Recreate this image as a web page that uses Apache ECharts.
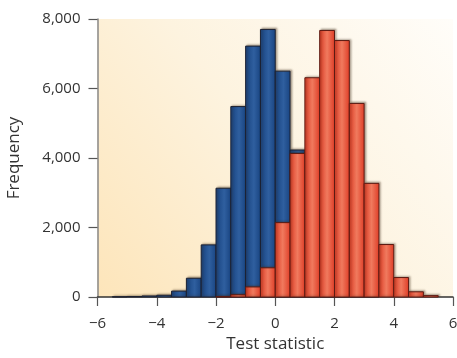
<!DOCTYPE html>
<html>
<head>
<meta charset="utf-8">
<script src="https://cdn.jsdelivr.net/npm/echarts@6/dist/echarts.min.js"></script>
<style>
  html, body { margin: 0; padding: 0; background: #fff; }
  #main { width: 457px; height: 358px; }
</style>
</head>
<body>
<div id="main"></div>
<script>
// left edge of each histogram bin (bin width 0.5)
var binStarts = [-6, -5.5, -5, -4.5, -4, -3.5, -3, -2.5, -2, -1.5, -1, -0.5,
                 0, 0.5, 1, 1.5, 2, 2.5, 3, 3.5, 4, 4.5, 5, 5.5];
var binWidth = 0.5;

// null distribution (blue)
var nullCounts = [0, 5, 15, 30, 50, 170, 540, 1500, 3130, 5480, 7220, 7700,
                  6500, 4230, 2150, 850, 280, 70, 15, 0, 0, 0, 0, 0];
// alternative distribution (red)
var altCounts = [0, 0, 0, 0, 0, 0, 0, 0, 10, 65, 290, 840,
                 2140, 4130, 6310, 7670, 7380, 5570, 3270, 1510, 560, 150, 40, 0];

var yTicks = [0, 2000, 4000, 6000, 8000];
var xTicks = [-6, -4, -2, 0, 2, 4, 6];

function toBins(counts) {
  return binStarts.map(function (x, i) {
    return [x, x + binWidth, counts[i]];
  });
}

function makeRender(fill, stroke) {
  return function (params, api) {
    var v = api.value(2);
    if (!v) return null;
    var p0 = api.coord([api.value(0), v]);
    var p1 = api.coord([api.value(1), 0]);
    return {
      type: 'rect',
      shape: { x: p0[0], y: p0[1], width: p1[0] - p0[0], height: p1[1] - p0[1] },
      style: {
        fill: fill,
        stroke: stroke,
        lineWidth: 1,
        shadowBlur: 2,
        shadowOffsetX: 1.5,
        shadowOffsetY: -1,
        shadowColor: 'rgba(60,40,20,0.35)'
      }
    };
  };
}

var blueFill = {
  type: 'linear', x: 0, y: 0, x2: 1, y2: 0,
  colorStops: [
    { offset: 0, color: '#17427f' },
    { offset: 0.55, color: '#2f5f9f' },
    { offset: 1, color: '#184380' }
  ]
};
var redFill = {
  type: 'linear', x: 0, y: 0, x2: 1, y2: 0,
  colorStops: [
    { offset: 0, color: '#dd3a24' },
    { offset: 0.5, color: '#f07a5e' },
    { offset: 1, color: '#de3b25' }
  ]
};

var font = '"Open Sans", "Noto Sans", sans-serif';

var option = {
  animation: false,
  grid: {
    left: 97.5, right: 4, top: 19, bottom: 61,
    outerBoundsMode: 'none',
    containLabel: false,
    show: true,
    borderWidth: 0,
    backgroundColor: {
      type: 'linear', x: 0, y: 1, x2: 1, y2: 0,
      colorStops: [
        { offset: 0, color: '#fde5ba' },
        { offset: 0.5, color: '#fdf3df' },
        { offset: 1, color: '#fffdf9' }
      ]
    }
  },
  xAxis: {
    type: 'value',
    min: -6, max: 6, interval: 2,
    name: 'Test statistic',
    nameLocation: 'middle',
    nameGap: 37,
    nameTextStyle: { fontSize: 17, color: '#333', fontFamily: font },
    splitLine: { show: false },
    axisLine: { onZero: false, lineStyle: { color: '#333', width: 1.5 } },
    axisTick: { length: 9, lineStyle: { color: '#555', width: 1.2 } },
    axisLabel: {
      margin: 19, fontSize: 15, color: '#333', fontFamily: font,
      formatter: function (v) { return String(v).replace('-', '\u2212'); }
    }
  },
  yAxis: {
    type: 'value',
    min: 0, max: 8000, interval: 2000,
    name: 'Frequency',
    nameLocation: 'middle',
    nameGap: 75,
    nameTextStyle: { fontSize: 17, color: '#333', fontFamily: font },
    splitLine: { show: false },
    axisLine: { show: true, onZero: false, lineStyle: { color: '#888', width: 1.5 } },
    axisTick: { show: true, length: 9, lineStyle: { color: '#555', width: 1.2 } },
    axisLabel: {
      margin: 17, fontSize: 15, color: '#333', fontFamily: font,
      formatter: function (v) { return v.toLocaleString('en-US'); }
    }
  },
  series: [
    {
      type: 'custom',
      name: 'Null',
      renderItem: makeRender(blueFill, '#1c2030'),
      encode: { x: [0, 1], y: 2 },
      data: toBins(nullCounts),
      z: 2
    },
    {
      type: 'custom',
      name: 'Alternative',
      renderItem: makeRender(redFill, '#5c1a12'),
      encode: { x: [0, 1], y: 2 },
      data: toBins(altCounts),
      z: 3
    }
  ]
};

var myChart = echarts.init(document.getElementById('main'));
myChart.setOption(option);
</script>
</body>
</html>
